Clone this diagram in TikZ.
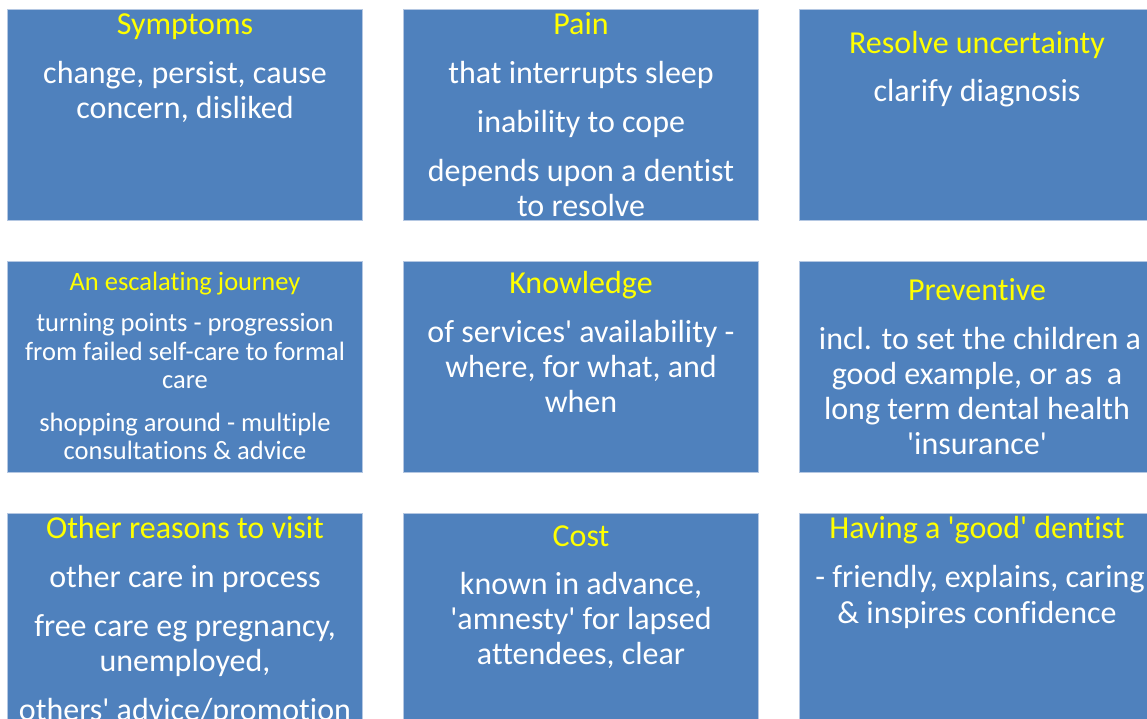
\documentclass[tikz,border=0pt]{standalone}
\usepackage{fontspec}
\setmainfont{Carlito}[Ligatures={NoCommon}]
\definecolor{boxblue}{HTML}{4F81BD}
\definecolor{boxedge}{HTML}{B4C7E2}
\definecolor{ttyellow}{HTML}{FFFF00}
\newcommand{\sq}{\textquotesingle}
\tikzset{
  panel/.style={rectangle, fill=boxblue, draw=boxedge, line width=0.8pt,
    minimum width=355pt, minimum height=211pt, inner sep=0pt},
  ttl/.style={anchor=base, text=ttyellow, inner sep=0pt, yshift=-1.5pt,
    font=\fontsize{32}{35}\selectfont},
  txt/.style={anchor=base, text=white, inner sep=0pt, yshift=-1.5pt,
    font=\fontsize{32}{35}\selectfont},
  ttls/.style={ttl, yshift=1pt, font=\fontsize{26.5}{29}\selectfont},
  txts/.style={txt, yshift=1.5pt, font=\fontsize{26.5}{29}\selectfont}
}
\begin{document}
\begin{tikzpicture}[x=1pt,y=-1pt]
\useasboundingbox (0,0) rectangle (1147,719);
\clip (0,0) rectangle (1147,719);
% panels
\node[panel] (p1) at (185,115) {};
\node[panel] (p2) at (581,115) {};
\node[panel] (p3) at (977,115) {};
\node[panel] (p4) at (185,367) {};
\node[panel] (p5) at (581,367) {};
\node[panel] (p6) at (977,367) {};
\node[panel] (p7) at (185,619) {};
\node[panel] (p8) at (581,619) {};
\node[panel] (p9) at (977,619) {};
% panel 1
\node[ttl] (t1) at (185,33) {Symptoms};
\node[txt] (t1a) at (185,82) {change, persist, cause};
\node[txt] (t1b) at (185,117) {concern, disliked};
% panel 2
\node[ttl] (t2) at (581,33) {Pain};
\node[txt] (t2a) at (581,82) {that interrupts sleep};
\node[txt] (t2b) at (581,131) {inability to cope};
\node[txt] (t2c) at (581,180) {depends upon a dentist};
\node[txt] (t2d) at (581,215) {to resolve};
% panel 3
\node[ttl] (t3) at (977,52) {Resolve uncertainty};
\node[txt] (t3a) at (977,100) {clarify diagnosis};
% panel 4
\node[ttls] (t4) at (185,290) {An escalating journey};
\node[txts] (t4a) at (185,331.5) {turning points - progression};
\node[txts] (t4b) at (185,360) {from failed self-care to formal};
\node[txts] (t4c) at (185,388) {care};
\node[txts] (t4d) at (185,431.5) {shopping around - multiple};
\node[txts] (t4e) at (185,459) {consultations \& advice};
% panel 5
\node[ttl] (t5) at (581,292) {Knowledge};
\node[txt] (t5a) at (581,341) {of services\sq{} availability -};
\node[txt] (t5b) at (581,376) {where, for what, and};
\node[txt] (t5c) at (581,411) {when};
% panel 6
\node[ttl] (t6) at (977,299) {Preventive};
\node[txt] (t6a) at (980,348) {incl. to set the children a};
\node[txt] (t6b) at (977,383) {good example, or as\ \ a};
\node[txt] (t6c) at (977,418) {long term dental health};
\node[txt] (t6d) at (977,453) {\sq{}insurance\sq};
% panel 7
\node[ttl] (t7) at (185,537) {Other reasons to visit};
\node[txt] (t7a) at (185,586) {other care in process};
\node[txt] (t7b) at (185,635) {free care eg pregnancy,};
\node[txt] (t7c) at (185,670) {unemployed,};
\node[txt] (t7d) at (185,719) {others\sq{} advice/promotion};
% panel 8
\node[ttl] (t8) at (581,545) {Cost};
\node[txt] (t8a) at (581,593) {known in advance,};
\node[txt] (t8b) at (581,628) {\sq{}amnesty\sq{} for lapsed};
\node[txt] (t8c) at (581,663) {attendees, clear};
% panel 9
\node[ttl] (t9) at (977,537) {Having a \sq{}good\sq{} dentist};
\node[txt] (t9a) at (980,586) {- friendly, explains, caring};
\node[txt] (t9b) at (977,622) {\& inspires confidence};
\end{tikzpicture}
\end{document}
